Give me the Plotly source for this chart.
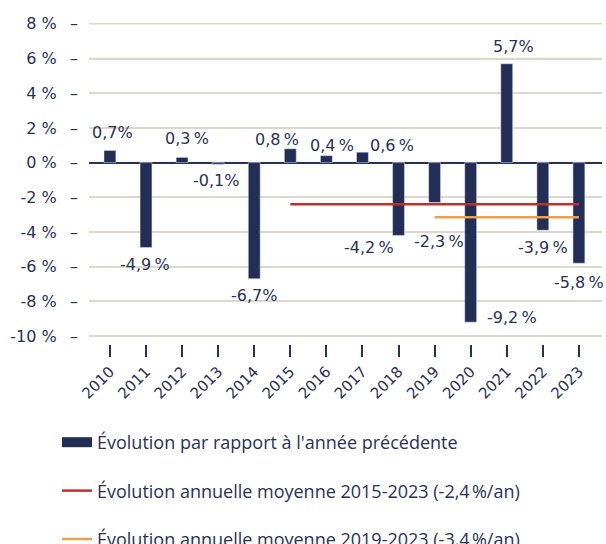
import plotly.graph_objects as go

years = [2010, 2011, 2012, 2013, 2014, 2015, 2016, 2017, 2018, 2019, 2020, 2021, 2022, 2023]
values = [0.7, -4.9, 0.3, -0.1, -6.7, 0.8, 0.4, 0.6, -4.2, -2.3, -9.2, 5.7, -3.9, -5.8]
labels = ["0,7%", "-4,9\u202f%", "0,3\u202f%", "-0,1%", "-6,7%", "0,8\u202f%", "0,4\u202f%",
          "0,6\u202f%", "-4,2\u202f%", "-2,3\u202f%", "-9,2\u202f%", "5,7%", "-3,9\u202f%", "-5,8\u202f%"]

avg1_years = [2015, 2016, 2017, 2018, 2019, 2020, 2021, 2022, 2023]
avg1_value = -2.4
avg2_years = [2019, 2020, 2021, 2022, 2023]
avg2_value = -3.15

ytick_vals = [8, 6, 4, 2, 0, -2, -4, -6, -8, -10]
ytick_text = ["8 %", "6 %", "4 %", "2 %", "0 %", "-2 %", "-4 %", "-6 %", "-8 %", "-10 %"]

names = ["Évolution par rapport à l'année précédente",
         "Évolution annuelle moyenne 2015-2023 (-2,4\u202f%/an)",
         "Évolution annuelle moyenne 2019-2023 (-3,4\u202f%/an)"]

# label offsets in pixels (layout only)
label_dx = [3, -1, 5, -2, 0, -13, 6, 30, -30, 4, 41, 7, 0, 0]
label_dy = [18, -17, 19, -16, -17, 9, 10, 7, -12, -39, 5, 17, -17, -19]

NAVY = "#222e56"
TEXT = "#27325a"
RED = "#c0302a"
ORANGE = "#e9a14f"
GRID = "#dcd8cb"
FONT = "DejaVu Sans"
LFONT = "Open Sans"

fig = go.Figure()
fig.add_trace(go.Bar(x=years, y=values, name=names[0], marker_color=NAVY,
                     width=0.33, showlegend=False, legendgroup="a"))
# legend swatch for the bars
fig.add_trace(go.Scatter(x=[None], y=[None], mode="lines", name=names[0],
                         line=dict(color=NAVY, width=13), legendgroup="a"))
fig.add_trace(go.Scatter(x=avg1_years, y=[avg1_value] * len(avg1_years), mode="lines",
                         line=dict(color=RED, width=2.5), name=names[1], legendgroup="b"))
fig.add_trace(go.Scatter(x=avg2_years, y=[avg2_value] * len(avg2_years), mode="lines",
                         line=dict(color=ORANGE, width=2.5), name=names[2], legendgroup="c"))

for yr, v, t, dx, dy in zip(years, values, labels, label_dx, label_dy):
    fig.add_annotation(x=yr, y=v, xref="x", yref="y", text=t, showarrow=False,
                       xshift=dx, yshift=dy,
                       font=dict(family=FONT, size=16, color=TEXT))

# horizontal grid lines at the y ticks
for v in ytick_vals:
    fig.add_shape(type="line", xref="x domain", yref="y", x0=0, x1=1, y0=v, y1=v,
                  line=dict(color=GRID, width=1.5), layer="below")

# tick text with a detached dash mark, like the reference
ytick_text_dash = [t + "\u2007\u2009\u2013" for t in ytick_text]

W = 602.0
fig.update_layout(
    width=606, height=544,
    margin=dict(l=0, r=4, t=23, b=200, autoexpand=False),
    paper_bgcolor="white", plot_bgcolor="rgba(0,0,0,0)",
    font=dict(family=FONT, color=TEXT, size=16),
    showlegend=True,
    legend=dict(orientation="v", xref="container", yref="container",
                x=57 / 606, xanchor="left", y=1 - 424 / 544, yanchor="top",
                traceorder="grouped", tracegroupgap=22, itemwidth=30,
                font=dict(family=LFONT, size=18, color=TEXT), bgcolor="rgba(0,0,0,0)"),
    xaxis=dict(domain=[89 / W, 1], range=[2009.42, 2023.64], type="linear",
               tickmode="linear", tick0=2010, dtick=1,
               showgrid=False, ticks="outside", ticklen=12, tickwidth=1.5, tickcolor=TEXT,
               tickangle=-45, tickfont=dict(family=FONT, size=15, color=TEXT),
               showline=False, zeroline=False, automargin=False),
    yaxis=dict(range=[-10.46, 8.05], tickmode="array", tickvals=ytick_vals,
               ticktext=ytick_text_dash, ticks="", ticklabelstandoff=10,
               tickfont=dict(family=FONT, size=16, color=TEXT),
               showgrid=True, gridcolor=GRID, gridwidth=1.5,
               zeroline=True, zerolinecolor=TEXT, zerolinewidth=1.5,
               showline=False, automargin=False),
)

fig.write_html("out.html", config={"displayModeBar": False},
               post_script="document.body.style.margin='0px';")
